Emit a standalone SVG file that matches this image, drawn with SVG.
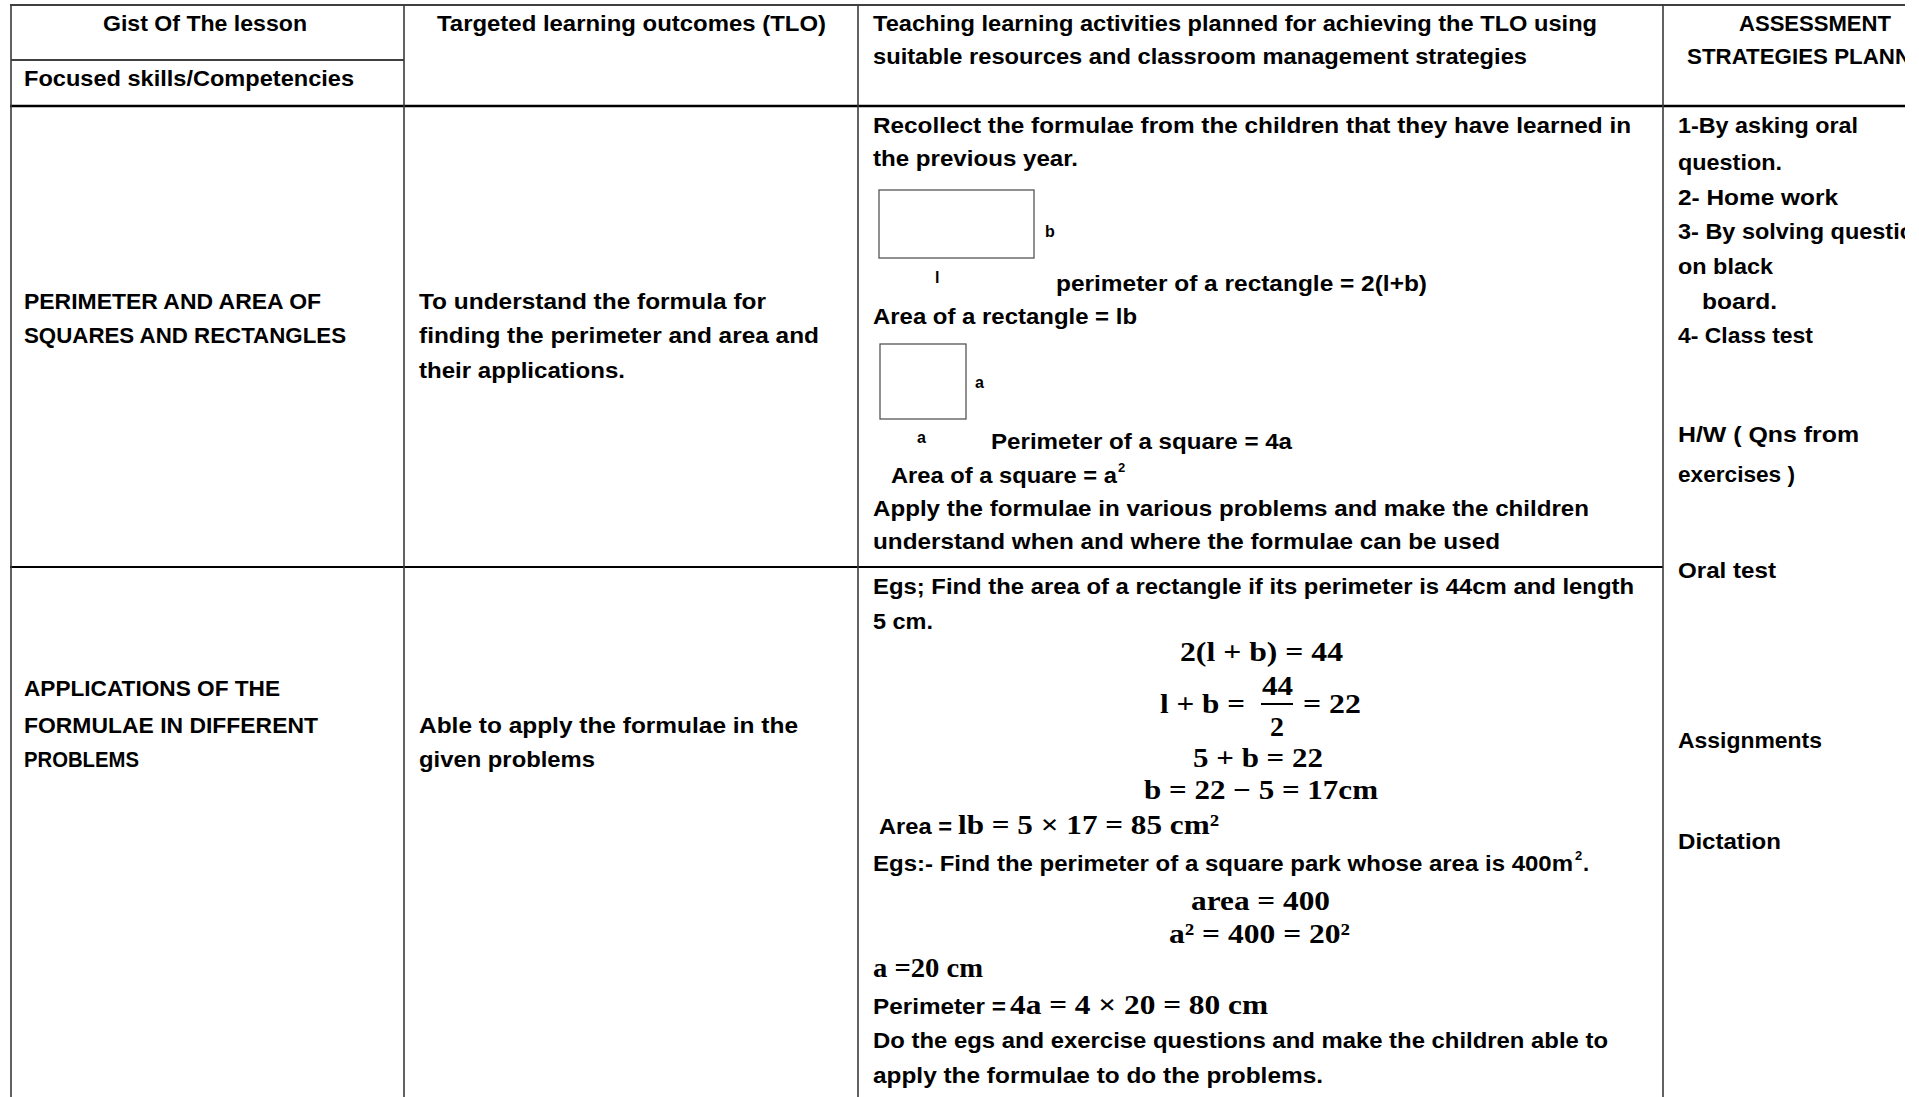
<svg xmlns="http://www.w3.org/2000/svg" width="1919" height="1097" viewBox="0 0 1919 1097">
<style>
.t{font-family:'Liberation Sans',Arial,sans-serif;font-weight:bold;font-size:22px;fill:#000}
.s{font-family:'Liberation Sans',Arial,sans-serif;font-weight:bold;font-size:16px;fill:#000}
.sup{font-family:'Liberation Sans',Arial,sans-serif;font-weight:bold;font-size:13px;fill:#000}
.m{font-family:'Liberation Serif','DejaVu Serif',serif;font-weight:bold;font-size:28px;fill:#000}
.h{stroke:#000;fill:none}
.v{stroke:#3a3a3a;stroke-width:1.6;fill:none}
.box{fill:#fff;stroke:#555;stroke-width:1.3}
</style>
<defs>
<clipPath id="clip"><rect x="0" y="0" width="1905" height="1097"/></clipPath>
</defs>
<rect width="1919" height="1097" fill="#fff"/>
<g clip-path="url(#clip)">
<g id="grid">
<line class="h" x1="10" y1="5" x2="1905" y2="5" stroke-width="1.6"/>
<line class="h" x1="11" y1="60" x2="404" y2="60" stroke-width="1.3"/>
<line class="h" x1="10" y1="106" x2="1905" y2="106" stroke-width="2.6"/>
<line class="h" x1="10" y1="567" x2="1663" y2="567" stroke-width="2"/>
<line class="v" x1="11" y1="5" x2="11" y2="1097"/>
<line class="v" x1="404" y1="5" x2="404" y2="1097"/>
<line class="v" x1="858" y1="5" x2="858" y2="1097"/>
<line class="v" x1="1663" y1="5" x2="1663" y2="1097"/>
</g>
<g id="header">
<text class="t" x="103" y="31" textLength="204" lengthAdjust="spacingAndGlyphs">Gist Of The lesson</text>
<text class="t" x="24" y="86" textLength="330" lengthAdjust="spacingAndGlyphs">Focused skills/Competencies</text>
<text class="t" x="437" y="31" textLength="389" lengthAdjust="spacingAndGlyphs">Targeted learning outcomes (TLO)</text>
<text class="t" x="873" y="31" textLength="724" lengthAdjust="spacingAndGlyphs">Teaching learning activities planned for achieving the TLO using</text>
<text class="t" x="873" y="64" textLength="654" lengthAdjust="spacingAndGlyphs">suitable resources and classroom management strategies</text>
<text class="t" x="1739" y="31" textLength="152" lengthAdjust="spacingAndGlyphs">ASSESSMENT</text>
<text class="t" x="1687" y="64" textLength="224" lengthAdjust="spacingAndGlyphs">STRATEGIES PLANN</text>
</g>
<g id="row1-gist">
<text class="t" x="24" y="309" textLength="297" lengthAdjust="spacingAndGlyphs">PERIMETER AND AREA OF</text>
<text class="t" x="24" y="343" textLength="322" lengthAdjust="spacingAndGlyphs">SQUARES AND RECTANGLES</text>
</g>
<g id="row1-tlo">
<text class="t" x="419" y="309" textLength="347" lengthAdjust="spacingAndGlyphs">To understand the formula for</text>
<text class="t" x="419" y="343" textLength="400" lengthAdjust="spacingAndGlyphs">finding the perimeter and area and</text>
<text class="t" x="419" y="378" textLength="206" lengthAdjust="spacingAndGlyphs">their applications.</text>
</g>
<g id="row1-activities">
<text class="t" x="873" y="133" textLength="758" lengthAdjust="spacingAndGlyphs">Recollect the formulae from the children that they have learned in</text>
<text class="t" x="873" y="166" textLength="205" lengthAdjust="spacingAndGlyphs">the previous year.</text>
<rect class="box" x="879" y="190" width="155" height="68"/>
<text class="s" x="1045" y="237">b</text>
<text class="s" x="935" y="283">l</text>
<text class="t" x="1056" y="291" textLength="371" lengthAdjust="spacingAndGlyphs">perimeter of a rectangle = 2(l+b)</text>
<text class="t" x="873" y="324" textLength="264" lengthAdjust="spacingAndGlyphs">Area of a rectangle = lb</text>
<rect class="box" x="880" y="344" width="86" height="75"/>
<text class="s" x="975" y="388">a</text>
<text class="s" x="917" y="443">a</text>
<text class="t" x="991" y="449" textLength="301" lengthAdjust="spacingAndGlyphs">Perimeter of a square = 4a</text>
<text class="t" x="891" y="483" textLength="226" lengthAdjust="spacingAndGlyphs">Area of a square = a</text>
<text class="sup" x="1118" y="472">2</text>
<text class="t" x="873" y="516" textLength="716" lengthAdjust="spacingAndGlyphs">Apply the formulae in various problems and make the children</text>
<text class="t" x="873" y="549" textLength="627" lengthAdjust="spacingAndGlyphs">understand when and where the formulae can be used</text>
</g>
<g id="assessment">
<text class="t" x="1678" y="133" textLength="180" lengthAdjust="spacingAndGlyphs">1-By asking oral</text>
<text class="t" x="1678" y="170" textLength="104" lengthAdjust="spacingAndGlyphs">question.</text>
<text class="t" x="1678" y="205" textLength="160" lengthAdjust="spacingAndGlyphs">2- Home work</text>
<text class="t" x="1678" y="239" textLength="236" lengthAdjust="spacingAndGlyphs">3- By solving questio</text>
<text class="t" x="1678" y="274" textLength="95" lengthAdjust="spacingAndGlyphs">on black</text>
<text class="t" x="1702" y="309" textLength="75" lengthAdjust="spacingAndGlyphs">board.</text>
<text class="t" x="1678" y="343" textLength="135" lengthAdjust="spacingAndGlyphs">4- Class test</text>
<text class="t" x="1678" y="442" textLength="181" lengthAdjust="spacingAndGlyphs">H/W ( Qns from</text>
<text class="t" x="1678" y="482" textLength="117" lengthAdjust="spacingAndGlyphs">exercises )</text>
<text class="t" x="1678" y="578" textLength="98" lengthAdjust="spacingAndGlyphs">Oral test</text>
<text class="t" x="1678" y="748" textLength="144" lengthAdjust="spacingAndGlyphs">Assignments</text>
<text class="t" x="1678" y="849" textLength="103" lengthAdjust="spacingAndGlyphs">Dictation</text>
</g>
<g id="row2-gist">
<text class="t" x="24" y="696" textLength="256" lengthAdjust="spacingAndGlyphs">APPLICATIONS OF THE</text>
<text class="t" x="24" y="733" textLength="294" lengthAdjust="spacingAndGlyphs">FORMULAE IN DIFFERENT</text>
<text class="t" x="24" y="767" textLength="115" lengthAdjust="spacingAndGlyphs">PROBLEMS</text>
</g>
<g id="row2-tlo">
<text class="t" x="419" y="733" textLength="379" lengthAdjust="spacingAndGlyphs">Able to apply the formulae in the</text>
<text class="t" x="419" y="767" textLength="176" lengthAdjust="spacingAndGlyphs">given problems</text>
</g>
<g id="row2-activities">
<text class="t" x="873" y="594" textLength="761" lengthAdjust="spacingAndGlyphs">Egs; Find the area of a rectangle if its perimeter is 44cm and length</text>
<text class="t" x="873" y="629" textLength="60" lengthAdjust="spacingAndGlyphs">5 cm.</text>
<text class="m" x="1180" y="661" textLength="163" lengthAdjust="spacingAndGlyphs">2(l + b) = 44</text>
<text class="m" x="1160" y="713" textLength="85" lengthAdjust="spacingAndGlyphs">l + b =</text>
<text class="m" x="1262" y="695" textLength="31" lengthAdjust="spacingAndGlyphs">44</text>
<line x1="1261" y1="704" x2="1293" y2="704" stroke="#000" stroke-width="2"/>
<text class="m" x="1270" y="736">2</text>
<text class="m" x="1303" y="713" textLength="58" lengthAdjust="spacingAndGlyphs">= 22</text>
<text class="m" x="1193" y="767" textLength="130" lengthAdjust="spacingAndGlyphs">5 + b = 22</text>
<text class="m" x="1144" y="799" textLength="234" lengthAdjust="spacingAndGlyphs">b = 22 − 5 = 17cm</text>
<text class="t" x="879" y="834" textLength="73" lengthAdjust="spacingAndGlyphs">Area =</text>
<text class="m" x="958" y="834" textLength="261" lengthAdjust="spacingAndGlyphs">lb = 5 × 17 = 85 cm²</text>
<text class="t" x="873" y="871" textLength="700" lengthAdjust="spacingAndGlyphs">Egs:- Find the perimeter of a square park whose area is 400m</text>
<text class="sup" x="1575" y="860">2</text>
<text class="t" x="1583" y="871">.</text>
<text class="m" x="1191" y="910" textLength="139" lengthAdjust="spacingAndGlyphs">area = 400</text>
<text class="m" x="1169" y="943" textLength="181" lengthAdjust="spacingAndGlyphs">a² = 400 = 20²</text>
<text class="m" x="873" y="977" textLength="110" lengthAdjust="spacingAndGlyphs">a =20 cm</text>
<text class="t" x="873" y="1014" textLength="133" lengthAdjust="spacingAndGlyphs">Perimeter =</text>
<text class="m" x="1010" y="1014" textLength="258" lengthAdjust="spacingAndGlyphs">4a = 4 × 20 = 80 cm</text>
<text class="t" x="873" y="1048" textLength="735" lengthAdjust="spacingAndGlyphs">Do the egs and exercise questions and make the children able to</text>
<text class="t" x="873" y="1083" textLength="450" lengthAdjust="spacingAndGlyphs">apply the formulae to do the problems.</text>
</g>
</g>
</svg>
